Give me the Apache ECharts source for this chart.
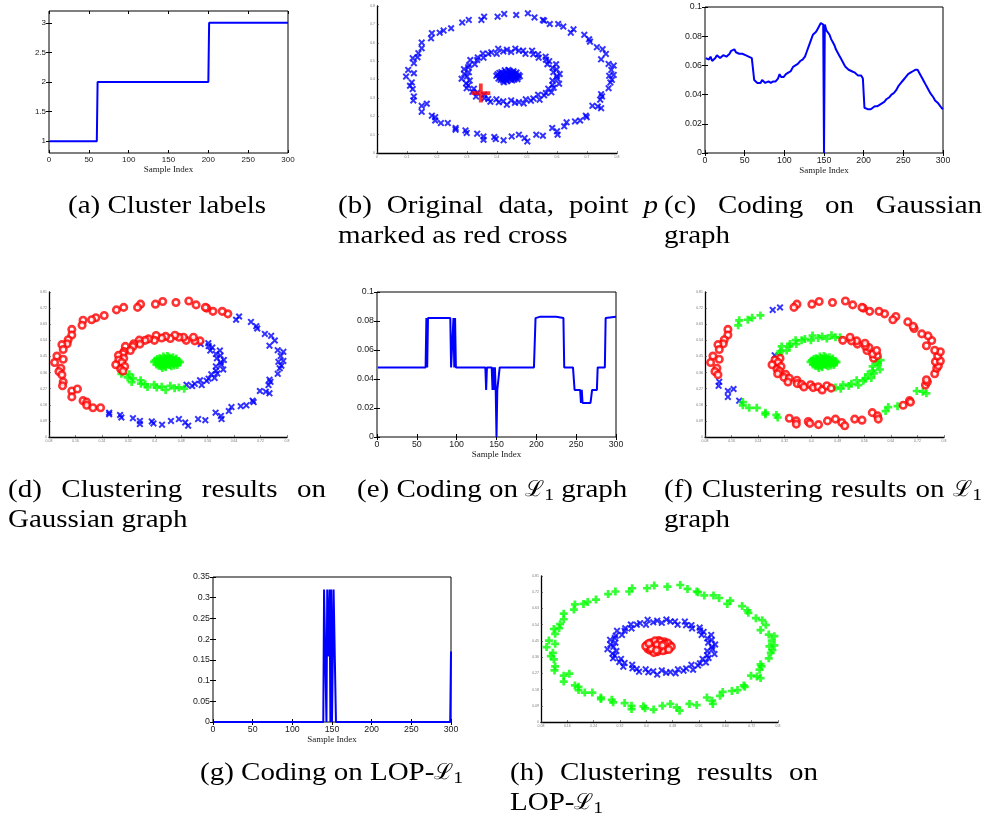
<!DOCTYPE html>
<html>
<head>
<meta charset="utf-8">
<script src="https://cdn.jsdelivr.net/npm/echarts@6/dist/echarts.min.js"></script>
<style>
  html, body { margin: 0; padding: 0; background: #fff; }
  #chart { width: 986px; height: 818px; }
</style>
</head>
<body>
<div id="chart"></div>
<script>
// ---------------- data ----------------
const sampleTicks = [0, 50, 100, 150, 200, 250, 300];

// (a) cluster label of each sample
const clusterLabels = [[1, 1], [60, 1], [61, 2], [200, 2], [201, 3], [300, 3]];
const clusterTicks = [1, 1.5, 2, 2.5, 3];

// (c) coding coefficients of point p on the Gaussian graph
const gaussCoding = [
  [1,.065],[3,.066],[5,.064],[7,.066],[9,.063],[11,.064],[13,.065],[15,.067],[17,.066],[19,.065],
  [21,.066],[23,.067],[25,.066],[27,.066],[29,.067],[31,.068],[33,.070],[35,.069],[37,.071],[39,.069],
  [41,.070],[43,.068],[45,.069],[47,.068],[49,.068],[51,.067],[53,.068],[55,.066],[57,.066],[59,.065],
  [61,.066],[62,.050],[64,.049],[66,.048],[68,.047],[70,.048],[72,.050],[74,.051],[76,.048],[78,.048],
  [80,.049],[83,.048],[86,.049],[89,.049],[92,.051],[94,.054],[96,.052],[99,.052],[102,.054],[105,.055],
  [108,.056],[111,.059],[114,.060],[117,.061],[120,.063],[123,.064],[126,.066],[128,.069],[130,.072],[132,.073],
  [134,.078],[136,.081],[138,.082],[140,.083],[142,.085],[144,.087],[146,.089],[148,.089],[149,.088],[150,0],
  [151,.088],[153,.084],[155,.083],[157,.081],[159,.078],[161,.076],[163,.074],[165,.071],[167,.069],[169,.067],
  [171,.065],[173,.063],[175,.061],[177,.059],[179,.058],[181,.057],[183,.056],[185,.056],[187,.055],[189,.055],
  [191,.054],[193,.053],[195,.052],[197,.053],[199,.051],[200,.050],[201,.031],[203,.030],[205,.030],[207,.031],
  [209,.030],[211,.031],[214,.032],[217,.032],[220,.033],[223,.034],[226,.035],[229,.037],[232,.038],[235,.040],
  [238,.041],[241,.043],[244,.046],[247,.048],[250,.050],[253,.052],[256,.054],[259,.055],[262,.056],[265,.057],
  [268,.057],[270,.055],[272,.054],[274,.051],[276,.049],[278,.047],[280,.045],[282,.043],[284,.041],[286,.040],
  [288,.038],[290,.036],[292,.035],[294,.034],[296,.033],[298,.031],[300,.030]
];
const codingTicks = [0, 0.02, 0.04, 0.06, 0.08, 0.1];

// (e) coding coefficients on the L1 graph
const l1Coding = [
  [1,.048],[61,.048],[62,.082],[63,.048],[64,.082],[92,.082],[93,.048],[95,.048],[96,.082],[97,.048],
  [98,.082],[99,.048],[136,.048],[137,.0325],[138,.048],[144,.048],[145,.0325],[146,.048],[147,.0325],[148,.048],
  [149,.0325],[150,0],[151,.0325],[153,.0325],[154,.048],[197,.048],[199,.082],[205,.083],[225,.083],[234,.082],
  [235,.048],[246,.048],[248,.0325],[255,.0325],[256,.0235],[257,.0325],[258,.0235],[268,.0235],[270,.0325],[276,.0325],
  [277,.048],[286,.048],[287,.082],[300,.083]
];

// (g) coding coefficients on the LOP-L1 graph
const lopCoding = [
  [1,0],[139,0],[140,.32],[142,.32],[143,0],[144,.32],[145,.32],[146,.158],[147,.32],[148,0],
  [149,.32],[150,0],[151,0],[152,.32],[154,.32],[155,0],[299,0],[300,.17]
];
const lopTicks = [0, 0.05, 0.1, 0.15, 0.2, 0.25, 0.3, 0.35];

// two-dimensional samples: outer ring, inner ring, central blob
const outerRing = [
  [0.503,0.760],[0.464,0.751],[0.424,0.757],[0.402,0.742],[0.357,0.742],[0.348,0.724],[0.306,0.724],[0.284,0.710],[0.247,0.679],[0.222,0.666],
  [0.209,0.655],[0.183,0.652],[0.180,0.624],[0.149,0.601],[0.149,0.570],[0.138,0.543],[0.135,0.521],[0.119,0.516],[0.123,0.489],[0.104,0.452],
  [0.123,0.434],[0.097,0.416],[0.116,0.384],[0.110,0.366],[0.119,0.348],[0.123,0.308],[0.121,0.286],[0.149,0.257],[0.149,0.224],[0.166,0.268],
  [0.183,0.203],[0.194,0.195],[0.194,0.177],[0.213,0.163],[0.236,0.163],[0.262,0.136],[0.262,0.127],[0.295,0.123],[0.299,0.109],[0.334,0.105],
  [0.355,0.090],[0.355,0.072],[0.391,0.087],[0.396,0.076],[0.422,0.069],[0.449,0.090],[0.473,0.100],[0.492,0.081],[0.501,0.063],[0.531,0.100],
  [0.553,0.094],[0.584,0.136],[0.600,0.118],[0.602,0.100],[0.624,0.145],[0.632,0.167],[0.660,0.172],[0.677,0.177],[0.696,0.203],[0.699,0.195],
  [0.718,0.257],[0.736,0.253],[0.747,0.244],[0.744,0.290],[0.750,0.308],[0.747,0.320],[0.772,0.353],[0.778,0.384],[0.783,0.398],[0.774,0.420],
  [0.789,0.425],[0.781,0.452],[0.789,0.476],[0.772,0.485],[0.763,0.539],[0.747,0.510],[0.752,0.565],[0.733,0.576],[0.710,0.606],[0.707,0.619],
  [0.691,0.643],[0.655,0.673],[0.646,0.655],[0.621,0.688],[0.604,0.702],[0.576,0.702],[0.557,0.720],[0.553,0.724],[0.525,0.738]
];
const innerRing = [
  [0.599,0.417],[0.609,0.430],[0.588,0.440],[0.599,0.455],[0.585,0.464],[0.597,0.483],[0.568,0.483],[0.574,0.500],[0.563,0.508],[0.562,0.524],
  [0.539,0.519],[0.537,0.537],[0.521,0.537],[0.517,0.557],[0.495,0.540],[0.487,0.557],[0.473,0.557],[0.461,0.568],[0.447,0.550],[0.433,0.562],
  [0.421,0.553],[0.404,0.567],[0.399,0.540],[0.381,0.548],[0.371,0.540],[0.353,0.541],[0.355,0.519],[0.336,0.520],[0.334,0.506],[0.311,0.506],
  [0.326,0.483],[0.307,0.478],[0.304,0.466],[0.290,0.456],[0.306,0.440],[0.291,0.430],[0.300,0.417],[0.282,0.404],[0.309,0.394],[0.297,0.379],
  [0.304,0.368],[0.299,0.353],[0.323,0.350],[0.318,0.333],[0.334,0.328],[0.330,0.307],[0.357,0.317],[0.358,0.298],[0.371,0.294],[0.378,0.279],
  [0.398,0.292],[0.406,0.276],[0.421,0.281],[0.433,0.263],[0.447,0.286],[0.460,0.273],[0.473,0.277],[0.489,0.270],[0.496,0.292],[0.513,0.285],
  [0.521,0.297],[0.542,0.290],[0.537,0.317],[0.557,0.314],[0.563,0.326],[0.581,0.330],[0.571,0.350],[0.589,0.355],[0.585,0.370],[0.607,0.377],
  [0.585,0.394],[0.601,0.404]
];
const centerBlob = [
  [0.436,0.421],[0.420,0.425],[0.452,0.418],[0.430,0.440],[0.445,0.402],[0.410,0.415],[0.462,0.428],[0.425,0.405],[0.448,0.438],[0.402,0.428],
  [0.470,0.412],[0.438,0.452],[0.433,0.390],[0.415,0.440],[0.458,0.400],[0.420,0.395],[0.455,0.445],[0.405,0.405],[0.472,0.425],[0.440,0.430],
  [0.428,0.415],[0.446,0.412],[0.418,0.432],[0.462,0.410],[0.412,0.398],[0.450,0.395],[0.426,0.450],[0.465,0.438],[0.398,0.420],[0.476,0.418],
  [0.437,0.408],[0.443,0.446],[0.423,0.385],[0.455,0.432],[0.432,0.428],[0.415,0.408],[0.468,0.402],[0.408,0.436],[0.449,0.425],[0.431,0.398]
];
const pointP = [0.346, 0.326];

// cluster assignments, run-length coded along each ring (r = red, b = blue, g = green)
const gaussOuterRuns  = [['r',35],['b',48],['r',6]];
const gaussInnerRuns  = [['b',11],['r',30],['g',17],['b',14]];
const gaussCenterRuns = [['g',40]];
const l1OuterRuns  = [['r',6],['b',2],['g',5],['r',12],['b',6],['g',8],['r',15],['g',3],['r',3],['g',3],['r',26]];
const l1InnerRuns  = [['g',2],['r',13],['g',18],['b',1],['r',22],['g',16]];
const l1CenterRuns = [['g',40]];
const lopOuterRuns  = [['g',89]];
const lopInnerRuns  = [['b',72]];
const lopCenterRuns = [['r',40]];

// axis ticks of the scatter panels
const rawTicks = [0, 0.1, 0.2, 0.3, 0.4, 0.5, 0.6, 0.7, 0.8];
const clusterXTicks = [0.08, 0.16, 0.24, 0.32, 0.40, 0.48, 0.56, 0.64, 0.72, 0.80];
const clusterYTicks = [0, 0.09, 0.18, 0.27, 0.36, 0.45, 0.54, 0.63, 0.72, 0.81];

// ---------------- chart ----------------
const BLUE = '#0000ff', RED = '#ff0000', GREEN = '#00ff00';
const SANS = 'Liberation Sans';
const SERIF = 'Liberation Serif';
const X_PATH = 'path://M0,2 L2,0 L5,3 L8,0 L10,2 L7,5 L10,8 L8,10 L5,7 L2,10 L0,8 L3,5 Z';
const PLUS_PATH = 'path://M3.3,0 H6.7 V3.3 H10 V6.7 H6.7 V10 H3.3 V6.7 H0 V3.3 H3.3 Z';
const CROSS_PATH = 'path://M4,0 H6 V4 H10 V6 H6 V10 H4 V6 H0 V4 H4 Z';

const grids = [], xAxes = [], yAxes = [], series = [];

function linePanel(rect, yMin, yMax, yTicks, points, fontSize, nameGap) {
  const g = grids.length;
  grids.push({ left: rect[0], top: rect[1], width: rect[2], height: rect[3],
    show: true, borderColor: '#000', borderWidth: 1, backgroundColor: '#fff' });
  const tick = { show: true, inside: true, length: 3, lineStyle: { color: '#000', width: 1 } };
  const base = { type: 'value', gridIndex: g, splitLine: { show: false }, axisLine: { show: false } };
  const label = { fontSize: fontSize, fontFamily: SANS, color: '#1a1a1a', margin: 3 };
  xAxes.push(Object.assign({}, base, { min: 0, max: 300, position: 'bottom',
    axisTick: Object.assign({ customValues: sampleTicks }, tick),
    axisLabel: Object.assign({ customValues: sampleTicks }, label),
    name: 'Sample Index', nameLocation: 'middle', nameGap: nameGap,
    nameTextStyle: { fontFamily: SERIF, fontSize: 9, color: '#1a1a1a' } }));
  xAxes.push(Object.assign({}, base, { min: 0, max: 300, position: 'top',
    axisTick: Object.assign({ customValues: sampleTicks }, tick), axisLabel: { show: false } }));
  yAxes.push(Object.assign({}, base, { min: yMin, max: yMax, position: 'left',
    axisTick: Object.assign({ customValues: yTicks }, tick),
    axisLabel: Object.assign({ customValues: yTicks }, label) }));
  yAxes.push(Object.assign({}, base, { min: yMin, max: yMax, position: 'right',
    axisTick: Object.assign({ customValues: yTicks }, tick), axisLabel: { show: false } }));
  series.push({ type: 'line', xAxisIndex: xAxes.length - 2, yAxisIndex: yAxes.length - 2,
    data: points, showSymbol: false, symbol: 'none', clip: true, silent: true,
    lineStyle: { color: BLUE, width: 2 } });
}

function scatterPanel(rect, xMin, xMax, yMin, yMax, xTicks, yTicks) {
  const g = grids.length;
  grids.push({ left: rect[0], top: rect[1], width: rect[2], height: rect[3], show: false });
  const line = { show: true, lineStyle: { color: '#000', width: 1.3 } };
  const tick = { show: true, inside: true, length: 2, lineStyle: { color: '#333', width: 0.6 } };
  const label = { fontSize: 3.5, fontFamily: SANS, color: '#777', margin: 2 };
  xAxes.push({ type: 'value', gridIndex: g, min: xMin, max: xMax, position: 'bottom',
    splitLine: { show: false }, axisLine: line,
    axisTick: Object.assign({ customValues: xTicks }, tick),
    axisLabel: Object.assign({ customValues: xTicks }, label) });
  yAxes.push({ type: 'value', gridIndex: g, min: yMin, max: yMax, position: 'left',
    splitLine: { show: false }, axisLine: line,
    axisTick: Object.assign({ customValues: yTicks }, tick),
    axisLabel: Object.assign({ customValues: yTicks }, label) });
  return { xAxisIndex: xAxes.length - 1, yAxisIndex: yAxes.length - 1 };
}

function markerStyle(c) {
  if (c === 'b') return { symbol: X_PATH, symbolSize: 7, itemStyle: { color: BLUE } };
  if (c === 'g') return { symbol: PLUS_PATH, symbolSize: 8, itemStyle: { color: GREEN } };
  return { symbol: 'circle', symbolSize: 6.5,
    itemStyle: { color: '#fff', borderColor: RED, borderWidth: 2.6 } };
}

function expandRuns(runs) {
  const out = [];
  runs.forEach(function (r) { for (let i = 0; i < r[1]; i++) out.push(r[0]); });
  return out;
}

function clusterSeries(ax, groups) {
  const byColour = { b: [], g: [], r: [] };
  groups.forEach(function (grp) {
    const labels = expandRuns(grp[1]);
    grp[0].forEach(function (p, i) { byColour[labels[i]].push(p); });
  });
  ['b', 'g', 'r'].forEach(function (c) {
    series.push(Object.assign({ type: 'scatter', silent: true, data: byColour[c] },
      ax, markerStyle(c)));
  });
}

// (a)
linePanel([49, 11, 239, 142], 0.8, 3.2, clusterTicks, clusterLabels, 8, 9);

// (b) raw samples and the selected point p
const axB = scatterPanel([377, 6, 240, 147], 0, 0.8, 0, 0.8, rawTicks, rawTicks);
series.push(Object.assign({ type: 'scatter', silent: true, symbol: X_PATH, symbolSize: 7,
  itemStyle: { color: BLUE }, data: outerRing.concat(innerRing, centerBlob) }, axB));
series.push(Object.assign({ type: 'scatter', silent: true, symbol: CROSS_PATH, symbolSize: 19,
  itemStyle: { color: RED }, data: [pointP] }, axB));

// (c)
linePanel([705, 7, 238, 146], 0, 0.1, codingTicks, gaussCoding, 8.8, 8);

// (d)
const axD = scatterPanel([49, 292, 238, 145], 0.08, 0.80, 0, 0.81, clusterXTicks, clusterYTicks);
clusterSeries(axD, [[outerRing, gaussOuterRuns], [innerRing, gaussInnerRuns], [centerBlob, gaussCenterRuns]]);

// (e)
linePanel([377, 292, 239, 145], 0, 0.1, codingTicks, l1Coding, 8.8, 10);

// (f)
const axF = scatterPanel([705, 292, 239, 145], 0.08, 0.80, 0, 0.81, clusterXTicks, clusterYTicks);
clusterSeries(axF, [[outerRing, l1OuterRuns], [innerRing, l1InnerRuns], [centerBlob, l1CenterRuns]]);

// (g)
linePanel([213, 577, 238, 145], 0, 0.35, lopTicks, lopCoding, 8.8, 12);

// (h)
const axH = scatterPanel([541, 576, 237, 146], 0.08, 0.80, 0, 0.81, clusterXTicks, clusterYTicks);
clusterSeries(axH, [[outerRing, lopOuterRuns], [innerRing, lopInnerRuns], [centerBlob, lopCenterRuns]]);

// ---------------- sub-figure captions ----------------
// [text, left, right (justified) or null, vertical centre]
const captionLines = [
  ['(a) Cluster labels', 68, null, 206],
  ['(b) Original data, point *p*', 338, 658, 206],
  ['marked as red cross', 338, null, 236],
  ['(c) Coding on Gaussian', 664, 982, 206],
  ['graph', 664, null, 236],
  ['(d) Clustering results on', 8, 326, 490],
  ['Gaussian graph', 8, null, 520],
  ['(e) Coding on \u2112_1 graph', 357, null, 490],
  ['(f) Clustering results on \u2112_1', 664, 982, 490],
  ['graph', 664, null, 520],
  ['(g) Coding on LOP-\u2112_1', 200, null, 773],
  ['(h) Clustering results on', 510, 818, 773],
  ['LOP-\u2112_1', 510, null, 803]
];
const CAP_SIZE = 25, CAP_SX = 1.16;
const measure = document.createElement('canvas').getContext('2d');

function pieceWidth(p) {
  measure.font = p.style + ' ' + p.size + 'px "' + p.family + '"';
  return measure.measureText(p.text).width * p.sx;
}
function parseWord(w) {
  if (w.length > 2 && w[0] === '*' && w[w.length - 1] === '*') {
    return [{ text: w.slice(1, -1), style: 'italic', size: CAP_SIZE, family: SERIF, dy: 0, sx: CAP_SX }];
  }
  const pieces = [];
  const parts = w.split('\u2112_1');
  parts.forEach(function (part, i) {
    if (part) pieces.push({ text: part, style: 'normal', size: CAP_SIZE, family: SERIF, dy: 0, sx: CAP_SX });
    if (i < parts.length - 1) {
      pieces.push({ text: '\u2112', style: 'normal', size: 22, family: 'DejaVu Serif', dy: 0, sx: 1.05 });
      pieces.push({ text: '1', style: 'normal', size: 17, family: SERIF, dy: 6, sx: CAP_SX });
    }
  });
  return pieces;
}

const graphics = [];
captionLines.forEach(function (line) {
  const words = line[0].split(' ').map(parseWord);
  const widths = words.map(function (ps) {
    return ps.reduce(function (s, p) { return s + pieceWidth(p); }, 0);
  });
  const space = pieceWidth({ text: ' ', style: 'normal', size: CAP_SIZE, family: SERIF, sx: CAP_SX });
  let gap = space;
  if (line[2] !== null && words.length > 1) {
    const total = widths.reduce(function (a, b) { return a + b; }, 0);
    gap = (line[2] - line[1] - total) / (words.length - 1);
  }
  let x = line[1];
  words.forEach(function (ps, wi) {
    let px = x;
    ps.forEach(function (p) {
      graphics.push({ type: 'text', x: px, y: line[3] + p.dy, scaleX: p.sx, silent: true,
        style: { text: p.text, fontSize: p.size, fontFamily: p.family, fontStyle: p.style,
          fill: '#000', align: 'left', verticalAlign: 'middle' } });
      px += pieceWidth(p);
    });
    x += widths[wi] + gap;
  });
});

const chart = echarts.init(document.getElementById('chart'), null, { renderer: 'canvas', width: 986, height: 818 });
chart.setOption({
  animation: false,
  backgroundColor: '#fff',
  grid: grids,
  xAxis: xAxes,
  yAxis: yAxes,
  series: series,
  graphic: graphics
});
</script>
</body>
</html>
